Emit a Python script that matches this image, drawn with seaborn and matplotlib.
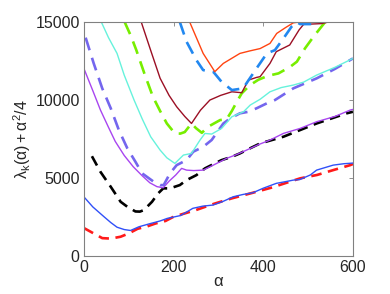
import numpy as np
import pandas as pd
import matplotlib
matplotlib.use("Agg")
import matplotlib.pyplot as plt
import seaborn as sns

# valores (alpha, lambda_k + alpha^2/4)
red_a = [0, 22, 41, 60, 82, 100, 120, 141, 160, 182, 200, 250, 290, 330, 377, 420, 482, 520, 556, 594, 600]
red_v = [1800, 1450, 1150, 1120, 1240, 1450, 1750, 1900, 2090, 2250, 2520, 2950, 3350, 3700, 4060,
         4400, 4980, 5200, 5510, 5830, 5900]

blue_a = [0, 20, 45, 60, 74, 90, 104, 115, 123, 149, 170, 186, 216, 243, 265, 288, 310, 333, 355,
          377, 400, 429, 455, 467, 481, 505, 519, 556, 580, 600]
blue_v = [3800, 3150, 2520, 2150, 1850, 1700, 1640, 1780, 1880, 2090, 2250, 2415, 2600, 3060, 3200,
          3270, 3500, 3800, 3950, 4060, 4350, 4660, 4800, 4870, 4900, 5200, 5510, 5830, 5920, 5960]

black_a = [18, 37, 60, 82, 97, 115, 125, 134, 152, 165, 177, 192, 214, 229, 251, 270, 292, 307,
           330, 348, 370, 393, 445, 519, 586, 600]
black_v = [6400, 5400, 4440, 3480, 3160, 2860, 2850, 2950, 3480, 4000, 4340, 4340, 4550, 4870,
           5190, 5620, 5940, 6150, 6365, 6580, 6900, 7220, 7650, 8500, 9150, 9250]

purple_a = [0, 20, 37, 55, 70, 90, 110, 130, 147, 163, 177, 190, 205, 218, 229, 245, 266, 290,
            318, 340, 363, 390, 415, 445, 482, 519, 560, 594, 600]
purple_v = [12030, 10600, 9360, 8250, 7350, 6450, 5730, 5150, 4700, 4450, 4380, 4800, 5200, 5620,
            5510, 5480, 5510, 5850, 6260, 6500, 6795, 7150, 7436, 7863, 8180, 8610, 8950, 9360, 9400]

slate_a = [4, 22, 41, 60, 78, 97, 115, 130, 156, 171, 178, 192, 207, 229, 244, 266, 285, 311, 326,
           348, 367, 385, 408, 426, 467, 519, 560, 600]
slate_v = [14000, 12350, 10750, 9470, 8080, 6900, 6045, 5300, 4760, 4550, 4550, 5300, 5830, 6150,
           6690, 7000, 7440, 8500, 8820, 9150, 9250, 9470, 9790, 10000, 10750, 11390, 12000, 12670]

cyan_a = [39, 55, 74, 90, 112, 130, 149, 170, 185, 203, 222, 240, 259, 270, 285, 307, 330, 356,
          371, 393, 415, 440, 467, 490, 519, 560, 600]
cyan_v = [15000, 14000, 12990, 11600, 10000, 8800, 7650, 6795, 6300, 5940, 6474, 6580, 7436, 7860,
          7820, 8180, 8930, 9250, 9680, 10050, 10530, 10800, 10960, 11150, 11600, 12100, 12670]

green_a = [91, 105, 117, 135, 154, 170, 185, 203, 215, 225, 240, 250, 263, 277, 304, 318, 330, 341,
           352, 370, 389, 410, 425, 434, 460, 475, 493, 512, 538]
green_v = [15000, 14100, 13200, 11700, 10210, 9300, 8500, 7860, 7850, 7950, 8500, 8200, 7900, 8290,
           8720, 8760, 9300, 9890, 10430, 10950, 11300, 11550, 11650, 11710, 12130, 12460, 13310,
           14060, 15000]

darkred_a = [128, 150, 170, 190, 207, 225, 240, 260, 281, 305, 330, 352, 367, 385, 393, 415, 429,
             459, 480, 490, 530, 545]
darkred_v = [15000, 13100, 11400, 10300, 9570, 8950, 8500, 9350, 10000, 10300, 10530, 10470, 11280,
             11450, 11500, 12350, 13100, 13530, 14500, 14850, 14900, 15000]

bluedash_a = [214, 229, 251, 266, 289, 307, 330, 344, 355, 370, 385, 408, 426, 445, 463, 475, 482,
              504, 520]
bluedash_v = [15000, 13740, 12560, 11920, 11800, 11170, 10640, 10700, 10750, 11390, 12030, 12990,
              13200, 13950, 14700, 15000, 14870, 14870, 14900]

orange_a = [236, 266, 292, 311, 348, 370, 393, 415, 430, 450, 467, 480]
orange_v = [15000, 12990, 11820, 12350, 12990, 13150, 13300, 13630, 14270, 14650, 14950, 15000]

sns.set_style("white")
plt.rcParams['font.family'] = ['Liberation Sans', 'DejaVu Sans']
plt.rcParams['mathtext.fontset'] = 'custom'
plt.rcParams['mathtext.rm'] = 'Liberation Sans'
plt.rcParams['mathtext.it'] = 'Liberation Sans'

fig = plt.figure(figsize=(3.9, 2.94), dpi=100)
ax = fig.add_axes([0.215, 0.129, 0.69, 0.796])

tracejado = (0, (4, 2.5))
curvas = [
    (red_a, red_v, '#ff1a1a', 1.9, tracejado),
    (blue_a, blue_v, '#3050f8', 1.0, '-'),
    (black_a, black_v, '#000000', 1.9, tracejado),
    (purple_a, purple_v, '#a845f0', 1.0, '-'),
    (slate_a, slate_v, '#7466ee', 1.9, (0, (5, 3))),
    (cyan_a, cyan_v, '#66f2dc', 1.0, '-'),
    (green_a, green_v, '#77ee00', 1.9, (0, (5, 3))),
    (darkred_a, darkred_v, '#9b0f24', 1.0, '-'),
    (bluedash_a, bluedash_v, '#2288f0', 1.9, (0, (5, 3))),
    (orange_a, orange_v, '#ff4411', 1.0, '-'),
]

for a, v, cor, lw, ls in curvas:
    sns.lineplot(x=a, y=v, color=cor, lw=lw, linestyle=ls, ax=ax, sort=False)

ax.set_xlim(0, 600)
ax.set_ylim(0, 15000)
ax.set_xticks([0, 200, 400, 600])
ax.set_yticks([0, 5000, 10000, 15000])
ax.tick_params(direction='in', length=3, width=0.6, color='#808080',
               top=True, right=True, labelsize=11.5, pad=3)
for s in ax.spines.values():
    s.set_color('#808080')
    s.set_linewidth(0.8)

ax.set_xlabel(r'$\mathregular{\alpha}$', fontsize=12, labelpad=-1)
ax.set_ylabel(r'$\mathregular{\lambda_k(\alpha)+\alpha^2/4}$', fontsize=11.5, labelpad=2)

fig.savefig('out.png', dpi=100)
